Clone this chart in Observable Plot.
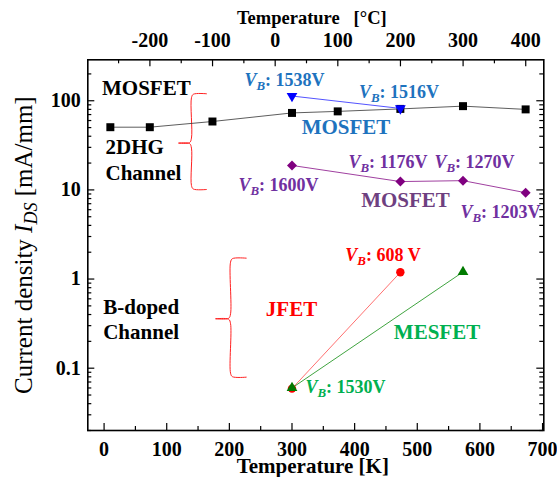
<!DOCTYPE html>
<html><head><meta charset="utf-8">
<script src="https://cdn.jsdelivr.net/npm/d3@7"></script>
<script src="https://cdn.jsdelivr.net/npm/@observablehq/plot@0.6"></script>
<style>body{margin:0;background:#fff}</style>
</head><body><div id="chart"></div>
<script>
// ---------- data ----------
const temp2DHG = [10, 73, 173, 300, 373, 473, 573, 673];          // K
const ids2DHG  = [50.5, 50.5, 58.5, 73, 76, 81, 87, 80];          // mA/mm
const tempMosBlue = [300, 473];
const idsMosBlue  = [113, 82];
const vbMosBlue   = ["1538V", "1516V"];
const tempMosPurple = [300, 473, 573, 673];
const idsMosPurple  = [18.8, 12.4, 12.7, 9.3];
const vbMosPurple   = ["1600V", "1176V", "1270V", "1203V"];
const tempJfet = [300, 473];
const idsJfet  = [0.059, 1.19];
const vbJfet   = "608 V";
const tempMesfet = [300, 573];
const idsMesfet  = [0.06, 1.2];
const vbMesfet   = "1530V";
const xTicksK  = [0, 100, 200, 300, 400, 500, 600, 700];
const xMinorK  = [50, 150, 250, 350, 450, 550, 650];
const topTicksC = [-200, -100, 0, 100, 200, 300, 400];
const topMinorC = [-250, -150, -50, 50, 150, 250, 350];
const yTicks = [0.1, 1, 10, 100];

// ---------- layout / styling ----------
const W = 557, H = 477, mL = 87.3, mR = 13.7, mT = 59.3, mB = 47;
const plotW = W - mL - mR, plotH = H - mT - mB;
const FONT = "'Liberation Serif','Times New Roman',serif";
const pxPerDecade = plotH / Math.log10(288 / 0.02);
const shift = (v, px) => v * Math.pow(10, px / pxPerDecade); // move px up on log axis

const yMinor = [];
for (let e = -2; e <= 2; e++) for (let m = 2; m <= 9; m++) {
  const v = m * Math.pow(10, e);
  if (v >= 0.02 && v <= 288) yMinor.push(+v.toPrecision(3));
}

const zip = (xs, ys) => xs.map((t, i) => ({t, v: ys[i]}));
const mos2dhg = zip(temp2DHG, ids2DHG);
const mosBlue = zip(tempMosBlue, idsMosBlue);
const mosPurple = zip(tempMosPurple, idsMosPurple);
const jfet = zip(tempJfet, idsJfet);
const mesfet = zip(tempMesfet, idsMesfet);

// annotation anchors (data coordinates)
const BLUE_T = "#1e73be", PURPLE_T = "#7030a0", PURPLE_M = "#6e4080", RED = "#ff0000", GREEN_T = "#00b050";
const leftLabels = [
  {text: "MOSFET", x: -3.3, y: 138.5, c: "black"},
  {text: "2DHG", x: 2.3, y: 29.9, c: "black"},
  {text: "Channel", x: 2.3, y: 15.4, c: "black"},
  {text: "B-doped", x: -1.4, y: 0.4835, c: "black"},
  {text: "Channel", x: -1.4, y: 0.2535, c: "black"}
];
const bigLabels = [
  {text: "MOSFET", x: 386.2, y: 50.2, c: BLUE_T},
  {text: "MOSFET", x: 481.2, y: 7.61, c: PURPLE_M},
  {text: "JFET", x: 299.2, y: 0.456, c: RED},
  {text: "MESFET", x: 531.5, y: 0.2516, c: GREEN_T}
];
const vbLabels = [
  {text: "V_B: " + vbMosBlue[0], x: 288, y: 169, c: BLUE_T},
  {text: "V_B: " + vbMosBlue[1], x: 470.8, y: 123.9, c: BLUE_T},
  {text: "V_B: " + vbMosPurple[0], x: 278.4, y: 11.2, c: PURPLE_T},
  {text: "V_B: " + vbMosPurple[1], x: 453.2, y: 20.3, c: PURPLE_T},
  {text: "V_B: " + vbMosPurple[2], x: 591.3, y: 20.3, c: PURPLE_T},
  {text: "V_B: " + vbMosPurple[3], x: 632.8, y: 5.58, c: PURPLE_T},
  {text: "V_B: " + vbJfet, x: 445.3, y: 1.84, c: RED},
  {text: "V_B: " + vbMesfet, x: 385.4, y: 0.0608, c: GREEN_T}
];
const braces = [
  {spine: 139.5, end: 163.5, tip: 118.8, top: 119.8, mid: 33.5, bottom: 10.1},
  {spine: 201.9, end: 226.9, tip: 177.9, top: 1.715, mid: 0.3585, bottom: 0.0793}
];
const bracePts = (b, id) => [
  [b.end, b.top], [b.spine + 3, shift(b.top, -0.5)], [b.spine, shift(b.top, -4)],
  [b.spine, shift(b.mid, 5)], [b.spine - 3, shift(b.mid, 0.5)], [b.tip, b.mid],
  [b.spine - 3, shift(b.mid, -0.5)], [b.spine, shift(b.mid, -5)],
  [b.spine, shift(b.bottom, 4)], [b.spine + 3, shift(b.bottom, 0.5)], [b.end, b.bottom]
].map(([x, y]) => ({x, y, id}));
const braceData = braces.flatMap((b, i) => bracePts(b, i));

const tk = {stroke: "black", strokeWidth: 1.2};

const chart = Plot.plot({
  width: W, height: H,
  marginLeft: mL, marginRight: mR, marginTop: mT, marginBottom: mB,
  style: {fontFamily: FONT, fontSize: "20px", fontWeight: "bold", background: "white", color: "black"},
  x: {domain: [-26, 702]},
  y: {type: "log", domain: [0.02, 288]},
  marks: [
    // inward ticks
    Plot.tickX(xTicksK, {x: d => d, insetTop: plotH - 7, ...tk}),
    Plot.tickX(xMinorK, {x: d => d, insetTop: plotH - 4, ...tk}),
    Plot.tickX(topTicksC, {x: d => d + 273.15, insetBottom: plotH - 7, ...tk}),
    Plot.tickX(topMinorC, {x: d => d + 273.15, insetBottom: plotH - 4, ...tk}),
    Plot.tickY(yTicks, {y: d => d, insetRight: plotW - 7, ...tk}),
    Plot.tickY(yMinor, {y: d => d, insetRight: plotW - 4, ...tk}),
    Plot.tickY(yTicks, {y: d => d, insetLeft: plotW - 7, ...tk}),
    Plot.tickY(yMinor, {y: d => d, insetLeft: plotW - 4, ...tk}),
    // axis labels
    Plot.axisX({anchor: "bottom", ticks: xTicksK, tickFormat: d => String(d), tickSize: 0, tickPadding: 11.5, label: null}),
    Plot.axisX({anchor: "top", ticks: topTicksC.map(c => c + 273.15), tickFormat: d => String(Math.round(d - 273.15)), tickSize: 0, tickPadding: 12.5, label: null}),
    Plot.axisY({anchor: "left", ticks: yTicks, tickFormat: d => String(d), tickSize: 0, tickPadding: 7, label: null}),
    // axis titles
    Plot.text(["Temperature [K]"], {text: d => d, frameAnchor: "bottom", lineAnchor: "middle", textAnchor: "middle", dy: 36, dx: -3, fontSize: 21}),
    Plot.text(["Temperature\u00a0\u00a0\u00a0[\u00b0C]"], {text: d => d, frameAnchor: "top", lineAnchor: "middle", textAnchor: "middle", dy: -41.5, dx: -4, fontSize: 18.5}),
    Plot.text(["Current density I_DS [mA/mm]"], {text: d => d, frameAnchor: "left", rotate: -90, dx: 31 - mL, lineAnchor: "bottom", textAnchor: "middle", fontSize: 25, fontWeight: "normal"}),
    // braces
    Plot.line(braceData, {x: "x", y: "y", z: "id", stroke: "#ff2020", strokeWidth: 1, curve: "catmull-rom"}),
    // series
    Plot.line(mos2dhg, {x: "t", y: "v", stroke: "#333", strokeWidth: 0.8}),
    Plot.dot(mos2dhg, {x: "t", y: "v", symbol: "square", r: 4.5, fill: "black"}),
    Plot.line(mosBlue, {x: "t", y: "v", stroke: "#4040ff", strokeWidth: 0.9}),
    Plot.dot(mosBlue, {x: "t", y: "v", symbol: "triangle", rotate: 180, r: 4, fill: "#0000ff"}),
    Plot.line(mosPurple, {x: "t", y: "v", stroke: "#a040a0", strokeWidth: 1}),
    Plot.dot(mosPurple, {x: "t", y: "v", symbol: "diamond2", r: 4.5, fill: "#800080"}),
    Plot.line(jfet, {x: "t", y: "v", stroke: "#ff6060", strokeWidth: 0.9}),
    Plot.dot(jfet, {x: "t", y: "v", symbol: "circle", r: 4.2, fill: "#ff0000"}),
    Plot.line(mesfet, {x: "t", y: "v", stroke: "#2a9a2a", strokeWidth: 0.9}),
    Plot.dot(mesfet, {x: "t", y: "v", symbol: "triangle", r: 4, fill: "#007a00"}),
    // annotations
    Plot.text(leftLabels, {x: "x", y: "y", text: "text", fill: "c", textAnchor: "start", fontSize: 21}),
    Plot.text(bigLabels, {x: "x", y: "y", text: "text", fill: "c", fontSize: 21}),
    Plot.text(vbLabels, {x: "x", y: "y", text: "text", fill: "c", fontSize: 18}),
    Plot.frame({stroke: "black", strokeWidth: 1.6})
  ]
});
document.getElementById("chart").appendChild(chart);

// subscript formatting: "V_B" -> italic V with italic subscript B
const NS = "http://www.w3.org/2000/svg";
chart.querySelectorAll("text").forEach(t => {
  const s = t.textContent;
  const m = s.match(/^(.*?)(\w)_(\w+)(.*)$/);
  if (!m) return;
  const fs = parseFloat(getComputedStyle(t).fontSize);
  while (t.firstChild) t.removeChild(t.firstChild);
  const mk = (txt, attrs) => {
    const e = document.createElementNS(NS, "tspan");
    e.textContent = txt;
    for (const k in attrs) e.setAttribute(k, attrs[k]);
    t.appendChild(e);
  };
  if (m[1]) mk(m[1], {});
  mk(m[2], {"font-style": "italic"});
  mk(m[3], {"font-style": "italic", "font-size": (fs * 0.72) + "px", dy: (fs * 0.22) + "px"});
  mk(m[4], {dy: (-fs * 0.22) + "px"});
});
</script>
</body></html>
